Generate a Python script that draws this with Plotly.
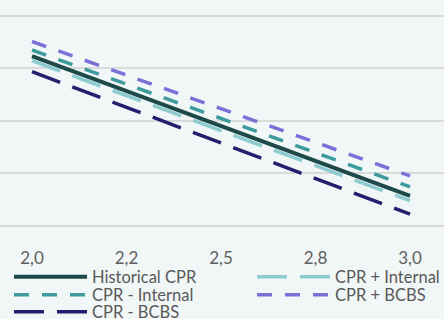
import plotly.graph_objects as go

x_vals = [2.0, 3.0]
historical_cpr = [16.15, 2.85]
cpr_plus_internal = [15.71, 2.40]
cpr_minus_internal = [16.72, 3.71]
cpr_plus_bcbs = [17.53, 4.75]
cpr_minus_bcbs = [14.66, 1.11]

tick_vals = [2.0, 2.25, 2.5, 2.75, 3.0]
tick_text = ["2,0", "2,2", "2,5", "2,8", "3,0"]

series = [
    ("Historical CPR", historical_cpr, "#1d4948", "solid", 4, "legend", 155),
    ("CPR + Internal", cpr_plus_internal, "#8ccbd0", "30px,13px", 3.5, "legend", 108),
    ("CPR - Internal", cpr_minus_internal, "#3d9b9d", "15px,13px", 3.5, "legend2", 155),
    ("CPR + BCBS", cpr_plus_bcbs, "#7b70d8", "15px,13px", 3.5, "legend2", 108),
    ("CPR - BCBS", cpr_minus_bcbs, "#231f6e", "30px,13px", 3.5, "legend3", 155),
]

fig = go.Figure()
for name, vals, color, dash, w, leg, lw in series:
    fig.add_trace(go.Scatter(
        x=x_vals, y=vals, mode="lines", name=name,
        line=dict(color=color, width=w, dash=dash),
        legend=leg, legendwidth=lw,
    ))

bg = "#f1f6f6"
font = dict(family="Lato, sans-serif", size=16.5, color="#595959")
leg_common = dict(orientation="h", xanchor="left", yanchor="middle",
                  bgcolor="rgba(0,0,0,0)", font=font, itemwidth=73,
                  tracegroupgap=0)
lx = 9 / 444
fig.update_layout(
    width=444, height=319,
    margin=dict(l=0, r=0, t=5, b=91, autoexpand=False),
    paper_bgcolor=bg, plot_bgcolor=bg,
    font=font,
    xaxis=dict(range=[1.9153, 3.0899], tickvals=tick_vals, ticktext=tick_text,
               showgrid=False, zeroline=False, showline=False,
               ticks="outside", ticklen=15, tickcolor="rgba(0,0,0,0)",
               tickfont=dict(family="Lato, sans-serif", size=17, color="#5f5f5f")),
    yaxis=dict(range=[-0.2, 21.0], dtick=5, showticklabels=False,
               showgrid=True, gridcolor="#d9d9d9", gridwidth=2,
               zeroline=False, showline=False),
    legend=dict(x=lx, y=-0.2197, **leg_common),
    legend2=dict(x=lx, y=-0.3004, **leg_common),
    legend3=dict(x=lx, y=-0.3767, **leg_common),
)

fig.write_html("out.html", config={"displayModeBar": False},
               post_script="document.body.style.margin='0';document.body.style.padding='0';")
